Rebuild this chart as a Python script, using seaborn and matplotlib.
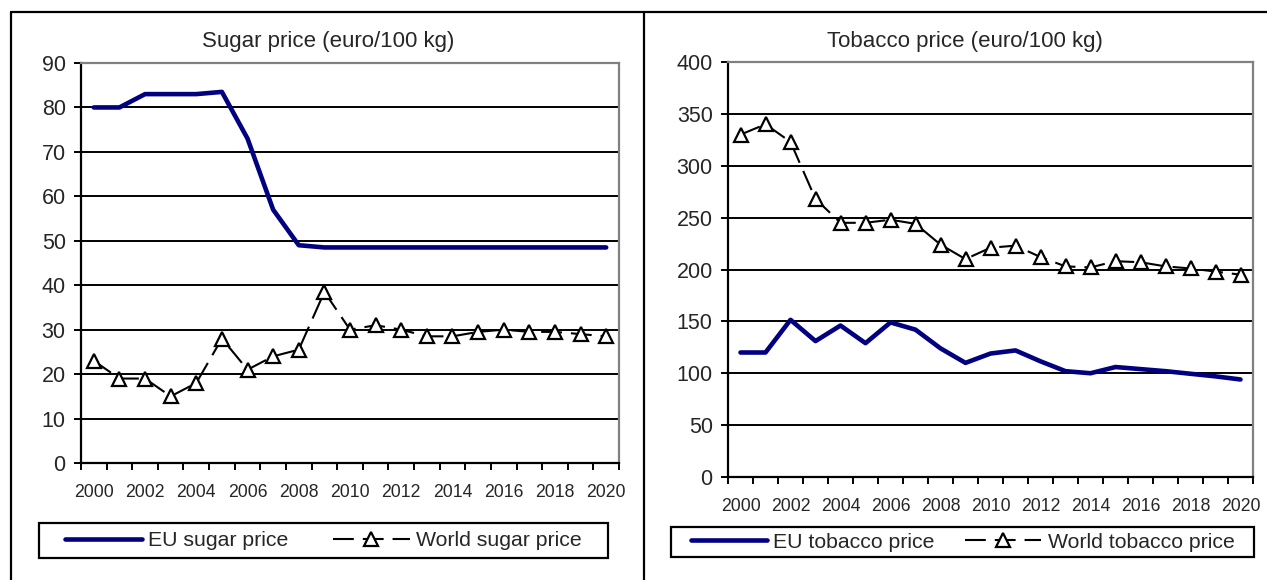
import numpy as np
import matplotlib
matplotlib.use("Agg")
import matplotlib.pyplot as plt
from matplotlib.lines import Line2D
from matplotlib.patches import Rectangle
import seaborn as sns

# data (euro / 100 kg)
years = list(range(2000, 2021))
eu_sugar = [80, 80, 83, 83, 83, 83.5, 73, 57, 49, 48.5, 48.5, 48.5, 48.5, 48.5,
            48.5, 48.5, 48.5, 48.5, 48.5, 48.5, 48.5]
world_sugar = [23, 19, 19, 15, 18, 28, 21, 24, 25.5, 38.5, 30, 31, 30, 28.5,
               28.5, 29.5, 30, 29.5, 29.5, 29, 28.5]
eu_tobacco = [120, 120, 151.5, 131, 146, 129, 149, 142, 124, 110, 119, 122,
              111.5, 102, 100, 106, 104, 102, 99.5, 97, 94]
world_tobacco = [330, 340, 323, 268, 245, 245, 248, 244, 224, 210, 221, 223,
                 212, 203, 202, 208, 207, 203, 201, 198, 195]

sugar_ticks = list(range(0, 91, 10))
tobacco_ticks = list(range(0, 401, 50))

sns.set_theme(style="white")
plt.rcParams['font.family'] = ['Liberation Sans', 'DejaVu Sans']

W, H = 1267, 580
fig = plt.figure(figsize=(W / 100, H / 100), dpi=100)

NAVY = "#000080"
GRAY = "#808080"


def px_axes(x0, y0, x1, y1):
    return fig.add_axes([x0 / W, 1 - y1 / H, (x1 - x0) / W, (y1 - y0) / H])


def draw_panel(ax, eu, world, eu_label, world_label, yticks):
    idx = np.arange(len(years))
    sns.lineplot(x=idx, y=eu, ax=ax, color=NAVY, linewidth=3.3,
                 solid_joinstyle="round", solid_capstyle="round",
                 label=eu_label, sort=False)
    sns.lineplot(x=idx, y=world, ax=ax, color="black", linewidth=1.5,
                 linestyle=(0, (10, 4.3)), marker="^", markersize=10,
                 markerfacecolor="white", markeredgecolor="black",
                 markeredgewidth=1.6, label=world_label, sort=False)

    ax.set_xlim(-0.5, len(years) - 0.5)
    ax.set_ylim(yticks[0], yticks[-1])
    ax.set_yticks(yticks)
    ax.set_xticks(idx[::2])
    ax.set_xticklabels([str(y) for y in years[::2]], fontsize=12.7)
    ax.set_xticks(np.arange(-0.5, len(years), 1), minor=True)
    ax.tick_params(axis="x", which="major", length=0, pad=15)
    ax.tick_params(axis="x", which="minor", bottom=True, length=5,
                   width=1.4, color="black", direction="out")
    ax.tick_params(axis="y", left=True, length=5, width=1.4, color="black",
                   direction="out", pad=6, labelsize=15.5)
    ax.yaxis.grid(True, color="black", linewidth=1.4)
    ax.xaxis.grid(False)
    ax.set_axisbelow(True)
    for side in ["left", "bottom"]:
        ax.spines[side].set_color("black")
        ax.spines[side].set_linewidth(1.6)
    for side in ["top", "right"]:
        ax.spines[side].set_color(GRAY)
        ax.spines[side].set_linewidth(1.6)
    ax.set_xlabel("")
    ax.set_ylabel("")
    handles, labels = ax.get_legend_handles_labels()
    if ax.get_legend() is not None:
        ax.get_legend().remove()
    return handles, labels


ax1 = px_axes(81, 63, 619, 463)
h1, l1 = draw_panel(ax1, eu_sugar, world_sugar, "EU sugar price",
                    "World sugar price", sugar_ticks)
ax2 = px_axes(728, 62, 1253, 477)
h2, l2 = draw_panel(ax2, eu_tobacco, world_tobacco, "EU tobacco price",
                    "World tobacco price", tobacco_ticks)

fig.text(328 / W, 1 - 42 / H, "Sugar price (euro/100 kg)", ha="center",
         va="center", fontsize=16)
fig.text(965 / W, 1 - 41 / H, "Tobacco price (euro/100 kg)", ha="center",
         va="center", fontsize=16)


def legend_box(handles, labels, x0, y0, x1, y1, colspace):
    # box drawn separately so the padding inside matches the original
    fig.add_artist(Rectangle((x0 / W, 1 - y1 / H), (x1 - x0) / W, (y1 - y0) / H,
                             transform=fig.transFigure, facecolor="white",
                             edgecolor="black", linewidth=1.6, zorder=3))
    leg = fig.legend(handles, labels, loc="center", ncol=2,
                     bbox_to_anchor=((x0 + x1) / 2 / W, 1 - (y0 + y1) / 2 / H),
                     bbox_transform=fig.transFigure,
                     fontsize=15.3, frameon=False,
                     borderpad=0.2, handlelength=3.6, handletextpad=0.3,
                     columnspacing=colspace, numpoints=1, borderaxespad=0)
    leg.set_zorder(4)
    return leg


legend_box(h1, l1, 39, 523, 608, 558, 2.1)
legend_box(h2, l2, 671, 527, 1254, 557, 1.4)

# chart area borders
for xs, ys in [([11, W], [12, 12]), ([11, 11], [12, H]), ([644, 644], [12, H])]:
    fig.add_artist(Line2D([x / W for x in xs], [1 - y / H for y in ys],
                          transform=fig.transFigure, color="black", linewidth=1.6))

fig.savefig("out.png", dpi=100)
